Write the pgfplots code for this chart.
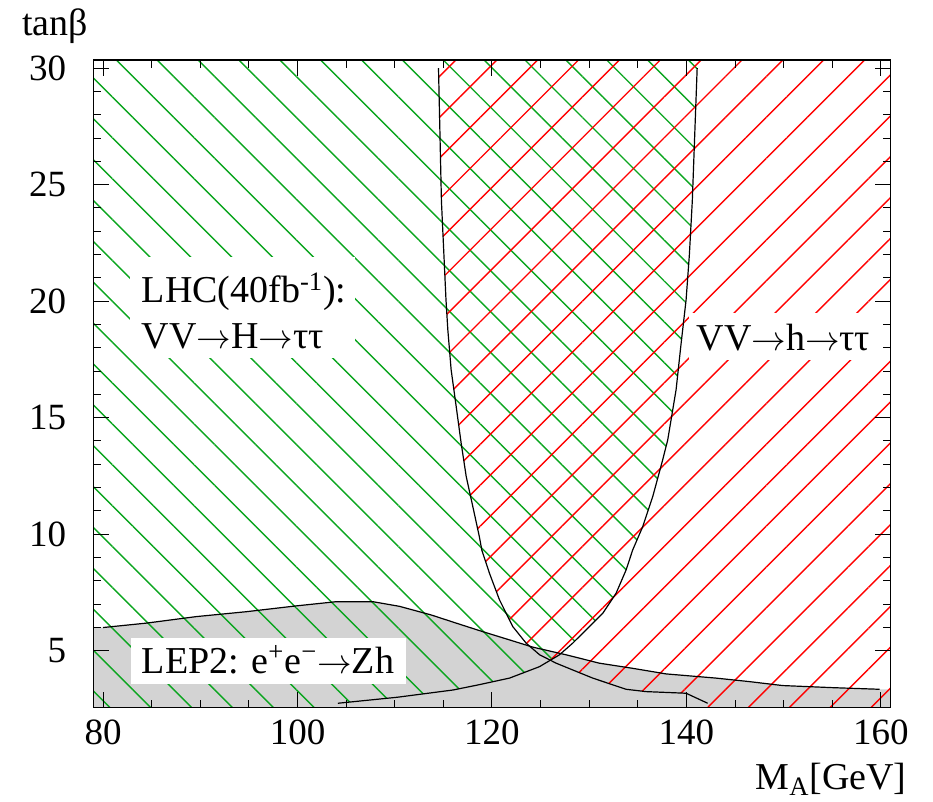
\documentclass[border=0pt]{standalone}
\usepackage{fontspec}
\setmainfont{Liberation Serif}
\usepackage{pgfplots}
\pgfplotsset{compat=1.18}
\usetikzlibrary{patterns.meta}
\definecolor{hgreen}{RGB}{10,165,30}
\definecolor{hred}{RGB}{255,0,0}
\definecolor{lepgray}{RGB}{211,211,211}
\newcommand{\lblfont}{\fontsize{19}{22.8}\selectfont}
\newcommand{\ar}{\mbox{$\rightarrow$}}
\begin{document}
\begin{tikzpicture}
\useasboundingbox (-46.65pt,-47.15pt) rectangle (419.85pt,353.85pt);
\begin{axis}[
  at={(0,0)}, anchor=south west,
  scale only axis, width=398.7pt, height=323.85pt,
  xmin=79, xmax=161, ymin=2.55, ymax=30.35,
  xtick={80,100,120,140,160}, minor x tick num=3,
  ytick={5,10,15,20,25,30}, minor y tick num=4,
  major tick length=7.8pt, minor tick length=3.8pt,
  every tick/.style={black, line width=0.5pt},
  axis line style={line width=0.75pt},
  axis on top=true,
  /pgf/number format/assume math mode=true,
  tick label style={font=\fontsize{18.5}{22}\selectfont},
  yticklabel style={xshift=-10pt},
  xticklabel style={yshift=-2.5pt},
]
% LEP2 excluded region
\addplot[draw=none, fill=lepgray] coordinates {
 (79,2.55) (79,5.99) (80,5.99) (84.46,6.18) (89.6,6.46) (94.74,6.67) (99.88,6.92)
 (103.99,7.1) (107.75,7.1) (110.49,6.9) (113.75,6.53) (116.32,6.18) (119.0,5.82)
 (121.8,5.46) (124.19,5.15) (127.62,4.82) (131.05,4.46) (134.47,4.24) (137.9,4.0)
 (141.33,3.88) (143.04,3.82) (146.46,3.67) (149.89,3.5) (155.03,3.41) (159.86,3.34)
 (161,3.34) (161,2.55)};
% VV -> H -> tautau (green hatch)
\addplot[draw=none, pattern={Lines[angle=-45,distance=14.45pt,line width=0.7pt]}, pattern color=hgreen] coordinates {
 (79,30.35) (141.1,30.35) (141.1,30) (140.6,24.3) (140.3,22) (139.96,20.05) (139.45,18.19)
 (138.93,16.19) (138.07,14.04) (137.55,13.18) (136.53,11.61) (135.5,10.32) (134.47,9.32)
 (133.79,8.46) (132.76,7.46) (131.39,6.6) (129.68,5.89) (128.3,5.32) (126.94,4.82)
 (124.88,4.31) (121.8,3.82) (118.6,3.53) (116.0,3.31) (110.3,3.0) (104.15,2.74)
 (104.15,2.55) (79,2.55)};
% VV -> h -> tautau (red hatch)
\addplot[draw=none, pattern={Lines[angle=45,distance=14.45pt,line width=0.7pt]}, pattern color=hred] coordinates {
 (114.5,30.35) (161,30.35) (161,2.55) (142.18,2.55) (142.18,2.74) (139.96,3.17)
 (135.85,3.24) (133.79,3.34) (130.36,3.82) (128.3,4.17) (126.6,4.46) (124.9,4.82)
 (123.51,5.32) (122.14,6.03) (120.77,7.18) (119.74,8.32) (118.95,9.32) (118.7,9.89)
 (118.03,11.18) (117.35,12.47) (116.83,13.9) (116.32,15.47) (115.8,17.05) (115.46,18.76)
 (115.27,20.05) (114.8,24.3) (114.5,30)};
% boundaries
\addplot[black, line width=0.6pt] coordinates {
 (141.1,30) (140.6,24.3) (140.3,22) (139.96,20.05) (139.45,18.19)
 (138.93,16.19) (138.07,14.04) (137.55,13.18) (136.53,11.61) (135.5,10.32) (134.47,9.32)
 (133.79,8.46) (132.76,7.46) (131.39,6.6) (129.68,5.89) (128.3,5.32) (126.94,4.82)
 (124.88,4.31) (121.8,3.82) (118.6,3.53) (116.0,3.31) (110.3,3.0) (104.15,2.74)};
\addplot[black, line width=0.6pt] coordinates {
 (114.5,30) (114.8,24.3) (115.27,20.05) (115.46,18.76) (115.8,17.05) (116.32,15.47)
 (116.83,13.9) (117.35,12.47) (118.03,11.18) (118.7,9.89) (118.95,9.32) (119.74,8.32)
 (120.77,7.18) (122.14,6.03) (123.51,5.32) (124.9,4.82) (126.6,4.46) (128.3,4.17)
 (130.36,3.82) (133.79,3.34) (135.85,3.24) (139.96,3.17) (142.18,2.74)};
\addplot[black, line width=0.6pt] coordinates {
 (80,5.99) (84.46,6.18) (89.6,6.46) (94.74,6.67) (99.88,6.92)
 (103.99,7.1) (107.75,7.1) (110.49,6.9) (113.75,6.53) (116.32,6.18) (119.0,5.82)
 (121.8,5.46) (124.19,5.15) (127.62,4.82) (131.05,4.46) (134.47,4.24) (137.9,4.0)
 (141.33,3.88) (143.04,3.82) (146.46,3.67) (149.89,3.5) (155.03,3.41) (159.86,3.34)};
% white label boxes
\node[fill=white, inner sep=0pt, minimum width=112.65pt, minimum height=50.5pt, anchor=north west] at (axis cs:82.71,21.9) {};
\node[fill=white, inner sep=0pt, minimum width=100.85pt, minimum height=23.5pt, anchor=north west] at (axis cs:140.2,19.49) {};
\node[fill=white, inner sep=0pt, minimum width=137.5pt, minimum height=22.8pt, anchor=north west] at (axis cs:82.82,5.56) {};
% labels
\node[anchor=base west, inner sep=0pt, font=\lblfont] at (axis cs:83.95,19.92) {LHC(40fb\textsuperscript{-1}):};
\node[anchor=base west, inner sep=0pt, font=\lblfont] at (axis cs:83.95,17.95) {VV\ar H\ar ττ};
\node[anchor=base west, inner sep=0pt, font=\lblfont] at (axis cs:141.0,17.9) {VV\ar h\ar ττ};
\node[anchor=base west, inner sep=0pt, font=\lblfont] at (axis cs:83.95,4.03) {LEP2: e\textsuperscript{+}e\textsuperscript{−}\ar Zh};
\end{axis}
\node[anchor=base, inner sep=0pt, font=\lblfont] at (-19.15pt,335.85pt) {tanβ};
\node[anchor=base east, inner sep=0pt, font=\lblfont] at (406.85pt,-41.15pt) {M\textsubscript{A}[GeV]};
\end{tikzpicture}
\end{document}
